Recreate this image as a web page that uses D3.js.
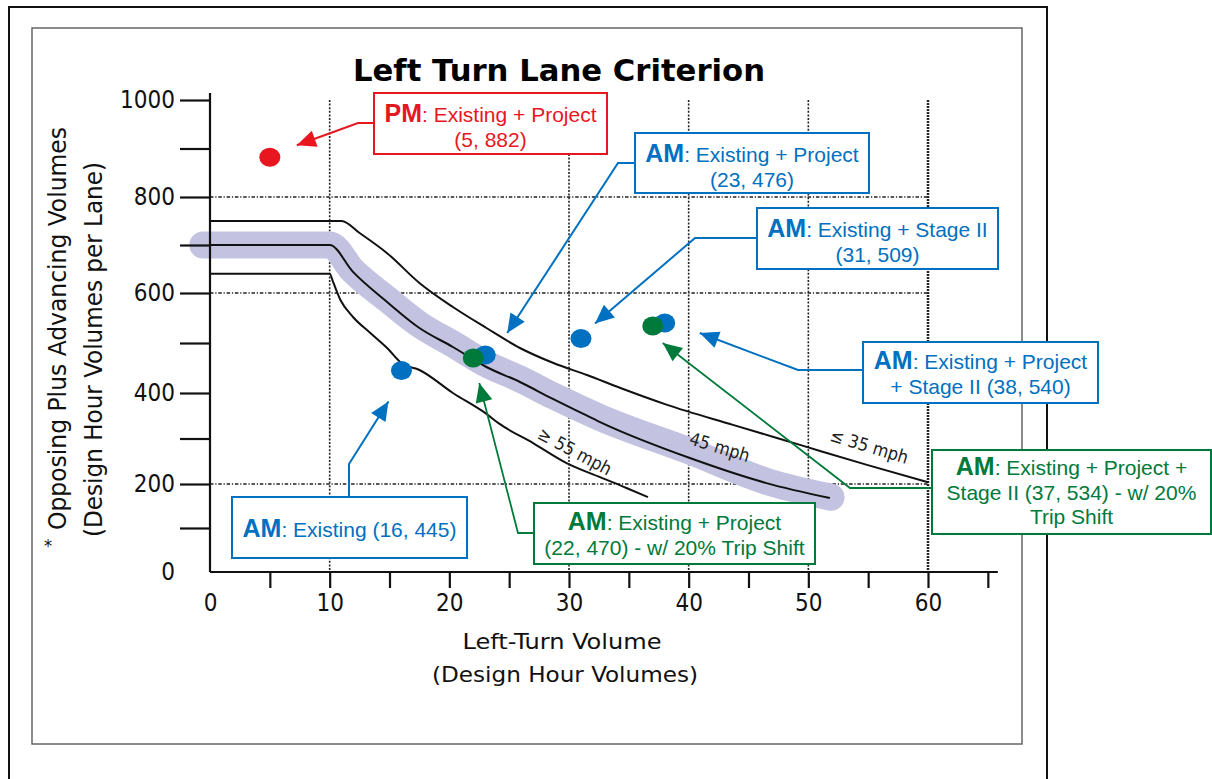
<!DOCTYPE html>
<html><head><meta charset="utf-8">
<script src="https://cdn.jsdelivr.net/npm/d3@7"></script>
<style>html,body{margin:0;padding:0;background:#fff;} svg{display:block;}</style>
</head><body>
<svg id="c" width="1212" height="779"></svg>
<script>
// ---------------- DATA ----------------
const xTickLabels = [0, 10, 20, 30, 40, 50, 60];
const xTickMarks = [5, 10, 15, 20, 25, 30, 35, 40, 45, 50, 55, 60, 65];
const yTickLabels = [0, 200, 400, 600, 800, 1000];
const yTickMarks = [100, 200, 300, 400, 500, 600, 700, 800, 900, 1000];
const xGridValues = [10, 30, 40, 50, 60];
const yGridValues = [200, 600, 800];

// criterion curves [left-turn volume, opposing+advancing volume]
const curve35 = [[0,750],[11,750],[12.5,725],[14.8,683],[17.5,621],[20.3,572],[23.1,530],[25.9,490],[28.7,460],[31.5,436],[34.3,410],[38.2,374],[43.7,330],[49.3,286],[54.9,242],[60,204]];
const curve45 = [[0,700],[10,700],[11.95,644],[14.8,582],[17.5,530],[20.3,492],[23.1,452],[25.9,422],[28.65,387],[31.2,354],[32.6,336],[40.1,257],[46.5,202],[51.8,168]];
const curve55 = [[0,640],[10,640],[10.3,622],[10.9,586],[11.95,552],[13.4,520],[14.8,490],[16.1,458],[17.5,446],[20.3,400],[23.1,354],[24.2,332],[27,290],[29.8,246],[32.6,215],[34.8,191],[36.6,170]];
const highlight45 = [[-0.6,700],[10,700],[11.95,646],[14.8,588],[17.5,537],[20.3,498],[23.1,458],[25.9,428],[28.65,394],[32.6,346],[40.1,272],[46.5,206],[51.9,170]];
const curveNames = ["\u2264 35 mph", "45 mph", "\u2265 55 mph"];
const curveLabelAt = [[55.1, 283], [42.6, 281], [30.5, 272]];

// scenario points
const pointX = [5, 16, 23, 22, 31, 38, 37];
const pointY = [882, 445, 476, 470, 509, 540, 534];
const pointPeriod = ["PM", "AM", "AM", "AM", "AM", "AM", "AM"];
const pointGroup = ["pm", "am", "am", "shift", "am", "am", "shift"];
const pointLines = [
  ["Existing + Project", "(5, 882)"],
  ["Existing (16, 445)"],
  ["Existing + Project", "(23, 476)"],
  ["Existing + Project", "(22, 470) - w/ 20% Trip Shift"],
  ["Existing + Stage II", "(31, 509)"],
  ["Existing + Project", "+ Stage II (38, 540)"],
  ["Existing + Project +", "Stage II (37, 534) - w/ 20%", "Trip Shift"]
];

// ---------------- LAYOUT ----------------
const colors = {pm: "#E8161F", am: "#0070C0", shift: "#007A3A"};
// box [x0,y0,x1,y1], elbow point, tip offset from point, first baseline
const noteLayout = [
  {box:[374,93,607,154], elbow:[358,123], from:[374,123], tip:[27,-12], base:122},
  {box:[232,497,467,558], elbow:[349,464], from:[349,497], tip:[-13,31], base:537},
  {box:[635,133,869,193], elbow:[618,163], from:[635,163], tip:[22,-22], base:162},
  {box:[534,503,815,564], elbow:[518,533], from:[534,533], tip:[6,25], base:530},
  {box:[757,208,998,269], elbow:[695,238], from:[757,238], tip:[14,-15], base:237},
  {box:[863,342,1098,403], elbow:[798,370], from:[863,370], tip:[35,10], base:369},
  {box:[932,450,1211,534], elbow:[850,488], from:[932,488], tip:[10,17], base:475}
];

const svg = d3.select("#c");
const x = d3.scaleLinear().domain([0, 60]).range([210, 928]);
const y = d3.scaleLinear().domain([0, 200, 400, 600, 800, 1000]).range([572, 484, 393, 293, 197, 100]);
const axisFont = "'DejaVu Sans Condensed','DejaVu Sans',sans-serif";
const noteFont = "'Liberation Sans',Arial,sans-serif";

// frames
svg.append("rect").attr("x", 9).attr("y", 7).attr("width", 1038).attr("height", 800)
  .attr("fill", "none").attr("stroke", "#111").attr("stroke-width", 2);
svg.append("rect").attr("x", 32).attr("y", 28).attr("width", 990).attr("height", 716)
  .attr("fill", "none").attr("stroke", "#666").attr("stroke-width", 1.5);

// title
svg.append("text").attr("x", 559).attr("y", 81).attr("text-anchor", "middle")
  .attr("font-family", "'DejaVu Sans',Verdana,sans-serif").attr("font-weight", "bold")
  .attr("font-size", 31).attr("textLength", 412).attr("lengthAdjust", "spacingAndGlyphs")
  .attr("fill", "#000").text("Left Turn Lane Criterion");

// grid
const grid = svg.append("g");
grid.selectAll("line.v").data(xGridValues).join("line")
  .attr("x1", d => x(d)).attr("x2", d => x(d)).attr("y1", y(1000)).attr("y2", y(0))
  .attr("stroke", "#222").attr("stroke-width", d => d === 60 ? 2.5 : 1.6)
  .attr("stroke-dasharray", d => d === 60 ? "2,1" : "2,1.6");
grid.selectAll("line.h").data(yGridValues).join("line")
  .attr("x1", x(0)).attr("x2", x(60)).attr("y1", d => y(d)).attr("y2", d => y(d))
  .attr("stroke", "#222").attr("stroke-width", 1.6).attr("stroke-dasharray", "3.5,1.8,1.2,1.8");

// highlight band
const line = d3.line().x(d => x(d[0])).y(d => y(d[1])).curve(d3.curveMonotoneX);
svg.append("path").attr("d", line(highlight45)).attr("fill", "none")
  .attr("stroke", "#c3c3e1").attr("stroke-width", 27)
  .attr("stroke-linecap", "round").attr("stroke-linejoin", "round");

// curves
svg.selectAll("path.curve").data([curve35, curve45, curve55]).join("path")
  .attr("class", "curve").attr("d", d => line(d)).attr("fill", "none")
  .attr("stroke", "#111").attr("stroke-width", 2);

// curve labels
svg.selectAll("text.cl").data(curveNames).join("text")
  .attr("class", "cl")
  .attr("transform", (d, i) => `translate(${x(curveLabelAt[i][0])},${y(curveLabelAt[i][1])}) rotate(${i === 2 ? 28 : 17})`)
  .attr("text-anchor", "middle").attr("dy", "0.35em")
  .attr("font-family", axisFont).attr("font-size", 18).attr("fill", "#222")
  .text(d => d);

// axes
const yAxis = d3.axisLeft(y).tickValues(yTickMarks.concat([0])).tickSize(30).tickSizeOuter(0).tickPadding(5)
  .tickFormat(d => yTickLabels.includes(d) ? d : "");
const gy = svg.append("g").attr("transform", `translate(${x(0)},0)`).call(yAxis);
gy.select(".domain").remove();
gy.selectAll(".tick line").attr("stroke", "#111").attr("stroke-width", 2.2);
gy.selectAll(".tick").filter(d => d === 0).select("line").remove();
gy.selectAll("text").attr("font-family", axisFont).attr("font-size", 24).attr("fill", "#111");

const xAxis = d3.axisBottom(x).tickValues(xTickMarks.concat([0])).tickSize(16).tickSizeOuter(0).tickPadding(6)
  .tickFormat(d => xTickLabels.includes(d) ? d : "");
const gx = svg.append("g").attr("transform", `translate(0,${y(0)})`).call(xAxis);
gx.select(".domain").remove();
gx.selectAll(".tick line").attr("stroke", "#111").attr("stroke-width", 2.2);
gx.selectAll(".tick").filter(d => d === 0).select("line").remove();
gx.selectAll("text").attr("font-family", axisFont).attr("font-size", 24).attr("fill", "#111");

svg.append("line").attr("x1", x(0)).attr("x2", x(0)).attr("y1", y(1000) - 7).attr("y2", y(0))
  .attr("stroke", "#111").attr("stroke-width", 2.2);
svg.append("line").attr("x1", x(0)).attr("x2", x(65) + 10).attr("y1", y(0)).attr("y2", y(0))
  .attr("stroke", "#111").attr("stroke-width", 2.2);

// axis titles
svg.append("text").attr("x", 562).attr("y", 649).attr("text-anchor", "middle")
  .attr("font-family", axisFont).attr("font-size", 22).attr("textLength", 199).attr("lengthAdjust", "spacingAndGlyphs")
  .attr("fill", "#111").text("Left-Turn Volume");
svg.append("text").attr("x", 565).attr("y", 682).attr("text-anchor", "middle")
  .attr("font-family", axisFont).attr("font-size", 22).attr("textLength", 266).attr("lengthAdjust", "spacingAndGlyphs")
  .attr("fill", "#111").text("(Design Hour Volumes)");
svg.append("text").attr("transform", "translate(66,530) rotate(-90)")
  .attr("font-family", axisFont).attr("font-size", 25).attr("textLength", 403).attr("lengthAdjust", "spacingAndGlyphs")
  .attr("fill", "#111").text("Opposing Plus Advancing Volumes");
svg.append("text").attr("transform", "translate(102,537) rotate(-90)")
  .attr("font-family", axisFont).attr("font-size", 24).attr("textLength", 375).attr("lengthAdjust", "spacingAndGlyphs")
  .attr("fill", "#111").text("(Design Hour Volumes per Lane)");
svg.append("text").attr("x", 44).attr("y", 552).attr("font-family", axisFont).attr("font-size", 18)
  .attr("fill", "#111").text("*");

// points (blue first, green/red on top)
const pts = pointX.map((v, i) => ({i, x: v, y: pointY[i], g: pointGroup[i]}));
const order = pts.slice().sort((a, b) => (a.g === "shift") - (b.g === "shift"));
svg.selectAll("ellipse.pt").data(order).join("ellipse").attr("class", "pt")
  .attr("cx", d => x(d.x)).attr("cy", d => y(d.y)).attr("rx", 10.5).attr("ry", 9.5)
  .attr("fill", d => colors[d.g]);

// annotations
pts.forEach(p => {
  const L = noteLayout[p.i];
  const c = colors[p.g];
  const g = svg.append("g");
  const tip = [x(p.x) + L.tip[0], y(p.y) + L.tip[1]];
  g.append("polyline").attr("points", [L.from, L.elbow, tip].map(q => q.join(",")).join(" "))
    .attr("fill", "none").attr("stroke", c).attr("stroke-width", p.g === "shift" ? 1.8 : 2);
  const dx = tip[0] - L.elbow[0], dy = tip[1] - L.elbow[1];
  const len = Math.hypot(dx, dy), ux = dx / len, uy = dy / len;
  const hl = 19, hw = 8.5;
  const bx = tip[0] - ux * hl, by = tip[1] - uy * hl;
  g.append("path").attr("d", `M${tip[0]},${tip[1]}L${bx - uy * hw},${by + ux * hw}L${bx + uy * hw},${by - ux * hw}Z`)
    .attr("fill", c);
  g.append("rect").attr("x", L.box[0]).attr("y", L.box[1])
    .attr("width", L.box[2] - L.box[0]).attr("height", L.box[3] - L.box[1])
    .attr("fill", "#fff").attr("stroke", c).attr("stroke-width", 2);
  const cx = (L.box[0] + L.box[2]) / 2;
  pointLines[p.i].forEach((t, k) => {
    const tx = g.append("text").attr("x", cx).attr("y", L.base + k * 24.5).attr("text-anchor", "middle")
      .attr("font-family", noteFont).attr("fill", c).attr("font-size", 21);
    if (k === 0) {
      tx.append("tspan").attr("font-weight", "bold").attr("font-size", 25).text(pointPeriod[p.i]);
      tx.append("tspan").text(": " + t);
    } else {
      tx.text(t);
    }
  });
});
</script>
</body></html>
